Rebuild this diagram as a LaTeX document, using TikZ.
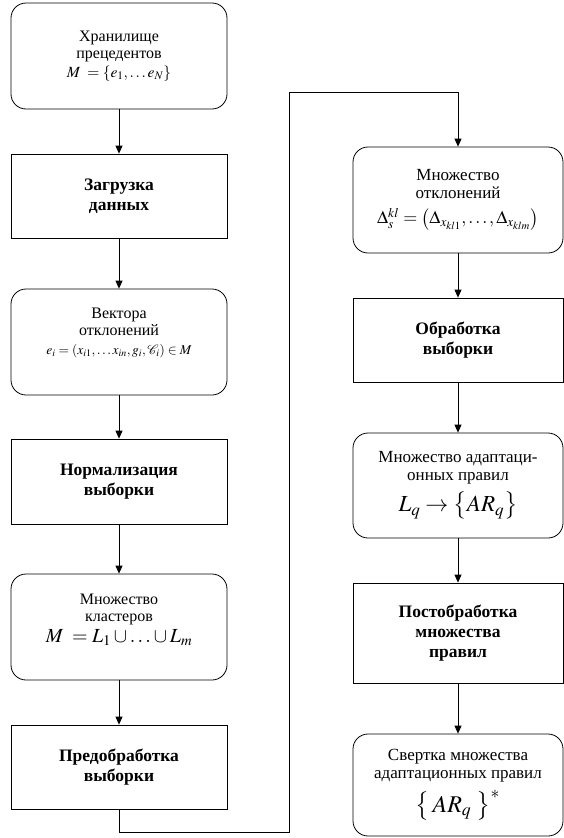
\documentclass[tikz,border=0pt]{standalone}
\usepackage{mathptmx}
\usepackage[no-math]{fontspec}
\setmainfont{Liberation Serif}
\usetikzlibrary{arrows.meta}
\begin{document}
\begin{tikzpicture}[x=1pt,y=-1pt,
  boxline/.style={draw,line width=0.8pt},
  roundbox/.style={boxline,rounded corners=15pt,align=center,inner sep=2pt,
    font=\fontsize{16}{17}\selectfont},
  rboxr/.style={roundbox,font=\fontsize{17}{18}\selectfont},
  plaintext/.style={align=center,inner sep=0pt,font=\fontsize{16}{17}\selectfont},
  rectbox/.style={boxline,align=center,inner sep=2pt,
    font=\fontsize{17.5}{20}\selectfont\bfseries},
  lw/.style={minimum width=216pt},
  rw/.style={minimum width=210pt},
  arr/.style={line width=0.8pt,-{Triangle[length=8pt,width=7pt]}}]
\useasboundingbox (0,0) rectangle (564,838);
% left column
\node[roundbox,lw,minimum height=106pt] (b1) at (119,56)
  {Хранилище\\прецедентов\\[2pt]{\fontsize{15.5}{17}\selectfont$M\;=\left\{e_1,\ldots e_N\right\}$}};
\node[rectbox,lw,minimum height=84pt] (b2) at (119,196) {Загрузка\\данных};
\node[roundbox,lw,minimum height=106pt] (b3) at (119,342) {};
\node[plaintext] (b3t) at (119,333)
  {Вектора\\отклонений\\[2pt]{\fontsize{13.5}{15}\selectfont$e_i=\left(x_{i1},\ldots x_{in},g_i,\mathcal{C}_i\right)\in M$}};
\node[rectbox,lw,minimum height=85pt] (b4) at (119,481.5) {Нормализация\\выборки};
\node[roundbox,lw,minimum height=106pt] (b5) at (119,627) {};
\node[plaintext] (b5t) at (119,620)
  {Множество\\кластеров\\[4pt]{\fontsize{20}{23}\selectfont$M\;=L_1\cup\ldots\cup L_m$}};
\node[rectbox,lw,minimum height=84pt] (b6) at (119,767) {Предобработка\\выборки};
% right column
\node[rboxr,rw,minimum height=106pt] (r1) at (458,200)
  {Множество\\отклонений\\[7pt]{\fontsize{18}{21}\selectfont$\Delta_s^{kl}=\left(\Delta_{x_{kl1}},\ldots,\Delta_{x_{klm}}\right)$}};
\node[rectbox,rw,minimum height=84pt] (r2) at (458,340) {Обработка\\выборки};
\node[rboxr,rw,minimum height=105pt] (r3) at (458,485.5)
  {Множество адаптаци-\\онных правил\\[7pt]{\fontsize{23}{26}\selectfont$L_q\rightarrow\left\{AR_q\right\}$}};
\node[rectbox,rw,minimum height=100pt] (r4) at (458,633) {Постобработка\\множества\\правил};
\node[rboxr,rw,minimum height=102pt] (r5) at (458,785)
  {Свертка множества\\адаптационных правил\\[7pt]{\fontsize{24}{27}\selectfont$\left\{\,AR_q\mkern4mu\right\}^{*}$}};
% connectors
\draw[arr] (b1) -- (b2);
\draw[arr] (b2) -- (b3);
\draw[arr] (b3) -- (b4);
\draw[arr] (b4) -- (b5);
\draw[arr] (b5) -- (b6);
\coordinate (c1) at (119,832);
\coordinate (c2) at (289,832);
\coordinate (c3) at (289,92);
\coordinate (c4) at (458,92);
\draw[arr] (b6.south) -- (c1) -- (c2) -- (c3) -- (c4) -- (r1.north);
\draw[arr] (r1) -- (r2);
\draw[arr] (r2) -- (r3);
\draw[arr] (r3) -- (r4);
\draw[arr] (r4) -- (r5);
\end{tikzpicture}
\end{document}
